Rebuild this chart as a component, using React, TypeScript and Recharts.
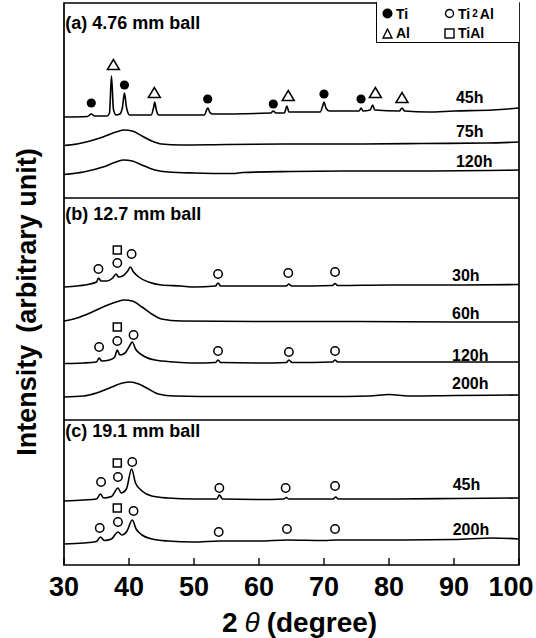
import { ComposedChart, Line, Scatter, XAxis, YAxis, ReferenceArea, ReferenceLine, Legend } from 'recharts'

type Pt = [number, number]

// 2θ (degree) against stacked intensity; y is the height above the bottom of the frame
const a45h: Pt[] = [
  [30, 448], [33.6, 448.5], [34.2, 451], [34.7, 449], [36.6, 449], [37.0, 452], [37.3, 489], [37.6, 456],
  [38.0, 450], [38.6, 451], [39.0, 458], [39.3, 472], [39.6, 458], [40.1, 450], [43.4, 450], [43.8, 458],
  [43.95, 463], [44.2, 455], [44.6, 450], [51.6, 450], [52.0, 456], [52.15, 457], [52.4, 453], [52.8, 451],
  [61.8, 452], [62.2, 454], [62.6, 452], [63.9, 452], [64.3, 459], [64.6, 453], [69.4, 453], [69.8, 459],
  [70.0, 463], [70.3, 457], [70.8, 454], [75.4, 454], [75.7, 457], [76.0, 454], [77.1, 455], [77.5, 460],
  [77.8, 455], [81.6, 454], [82.0, 457], [82.4, 454], [86, 453], [90, 454], [96, 455], [100, 457],
]
const a75h: Pt[] = [
  [30, 419.5], [32, 421], [34, 424], [36, 428], [38, 433], [39.3, 435], [40.5, 434], [42, 429], [43.5, 424],
  [45, 421], [48, 420], [55, 420.5], [65, 421], [75, 421], [85, 421.5], [95, 422], [100, 423],
]
const a120h: Pt[] = [
  [30, 390.5], [33, 393], [36, 398], [38, 403], [39.2, 405], [40.5, 404], [42, 400], [44, 395], [46, 393],
  [50, 392], [56, 391.5], [57.5, 392.5], [65, 393.5], [75, 394], [85, 394], [95, 394.5], [100, 395],
]
const b30h: Pt[] = [
  [30, 278], [32, 279], [34, 281], [35.0, 283], [35.3, 287], [35.7, 284], [36.5, 284], [37.5, 287],
  [38.0, 291], [38.4, 288], [39.0, 289], [39.8, 294], [40.2, 298], [40.7, 293], [41.5, 288], [43, 283],
  [45, 280], [48, 279], [50, 278], [53.3, 279], [53.7, 282], [54.1, 279], [58, 279], [64.2, 279],
  [64.6, 281], [65.0, 279], [71.3, 279.5], [71.7, 281.5], [72.1, 279.5], [80, 280], [90, 280], [100, 280.5],
]
const b60h: Pt[] = [
  [30, 244], [32, 247], [34, 252], [36, 258], [38, 263], [39.3, 265], [40.5, 264], [42, 258], [43.5, 251],
  [45, 246], [48, 244], [60, 243.5], [75, 243.5], [90, 243], [100, 243],
]
const b120h: Pt[] = [
  [30, 201.5], [33, 202], [35.0, 203], [35.4, 207], [35.8, 204], [37, 205], [37.8, 208], [38.2, 215],
  [38.6, 210], [39.4, 212], [40.0, 218], [40.5, 223], [41, 216], [42, 210], [44, 205], [47, 203], [50, 202],
  [53.3, 202.5], [53.7, 205], [54.1, 202.5], [60, 202], [64.2, 202.5], [64.6, 205], [65.1, 202.5],
  [71.3, 203], [71.7, 205], [72.1, 203], [80, 203], [90, 203], [100, 203],
]
const b200h: Pt[] = [
  [30, 168], [33, 169], [35, 172], [37, 177], [39, 182], [40.2, 183], [41.5, 181], [43, 176], [44.5, 171],
  [47, 169], [55, 168.5], [70, 168.5], [77, 169], [80, 170.5], [83, 169], [90, 169.5], [100, 170],
]
const c45h: Pt[] = [
  [30, 64], [33, 65], [35.0, 66], [35.6, 71], [36.1, 67], [37.3, 68.5], [38.3, 77], [38.8, 72], [39.6, 76],
  [40.4, 96], [41.0, 82], [42, 74], [43.5, 69], [46, 67], [50, 66], [53.5, 66], [53.9, 70], [54.4, 66],
  [60, 65.5], [63.8, 66], [64.2, 67.5], [64.6, 66], [71.4, 66], [71.8, 68], [72.2, 66], [80, 66],
  [90, 66.5], [100, 67],
]
const c200h: Pt[] = [
  [30, 21], [33, 22], [35.0, 23.5], [35.6, 28], [36.2, 24.5], [37.3, 26], [38.3, 33], [38.9, 30], [39.7, 34],
  [40.5, 45], [41.1, 36], [42, 30], [43.5, 26], [46, 24], [50, 23], [54, 24], [60, 24], [64.3, 25],
  [70, 24.5], [72, 25], [80, 25], [90, 25.5], [96, 27], [100, 26],
]

// peak markers
const tiMarks: Pt[] = [[34.2, 462], [39.3, 480], [52.1, 466], [62.2, 461], [70.0, 471], [75.7, 466]]
const alMarks: Pt[] = [[37.6, 500], [43.9, 472], [64.5, 469], [77.9, 472], [82.0, 467]]
const ti2alMarks: Pt[] = [
  [35.3, 296], [38.2, 302], [40.4, 311], [53.7, 291], [64.5, 292], [71.7, 293],
  [35.4, 218], [38.2, 224], [40.7, 230], [53.7, 214], [64.6, 213], [71.7, 214],
  [35.7, 83], [38.3, 88], [40.5, 103], [53.9, 77], [64.1, 77], [71.7, 79],
  [35.5, 37], [38.3, 43], [40.7, 54], [53.8, 33], [64.3, 36], [71.7, 36],
]
const tiAlMarks: Pt[] = [[38.2, 315], [38.2, 238], [38.2, 102], [38.2, 57]]

const hourText = ['45h', '75h', '120h', '30h', '60h', '120h', '200h', '45h', '200h']
const hourX = [90.3, 90.3, 90.3, 89.7, 89.7, 89.7, 89.7, 89.8, 89.8]
const hourY = [468, 434, 404, 290, 252, 210, 182, 81, 36]

const panelNames = ['(a) 4.76 mm ball', '(b) 12.7 mm ball', '(c) 19.1 mm ball']
const panelNameY = [542, 351, 134]

const dividers = [367, 145]
const xTicks = [30, 40, 50, 60, 70, 80, 90, 100]
const yMax = 562

const spectra = [a45h, a75h, a120h, b30h, b60h, b120h, b200h, c45h, c200h]
const toRows = (pts: Pt[]) => pts.map(([x, y]) => ({ x, y }))

const FONT = '"Liberation Sans", Arial, sans-serif'

const hourRows = hourText.map((t, i) => ({ x: hourX[i], y: hourY[i], t }))
const panelRows = panelNames.map((t, i) => ({ x: 30.2, y: panelNameY[i], t }))

function Sym({ kind, size = 11 }: { kind: string; size?: number }) {
  const h = size / 2
  return (
    <svg width={size} height={size} style={{ verticalAlign: 'middle', marginRight: 1 }}>
      {kind === 'ti' && <circle cx={h} cy={h} r={h - 0.5} fill="#000" />}
      {kind === 'ti2al' && <circle cx={h} cy={h} r={h - 1.5} fill="none" stroke="#000" strokeWidth={1.4} />}
      {kind === 'al' && <path d={`M${h} 1 L${size - 1} ${size - 1} L1 ${size - 1} Z`} fill="none" stroke="#000" strokeWidth={1.4} />}
      {kind === 'tial' && <rect x={1} y={1} width={size - 2} height={size - 2} fill="none" stroke="#000" strokeWidth={1.4} />}
    </svg>
  )
}

function PhaseLegend() {
  const cell = { display: 'flex', alignItems: 'center', gap: 2 } as const
  return (
    <div
      style={{
        width: 143, height: 41, boxSizing: 'border-box', borderLeft: '1.5px solid #000', borderBottom: '1.5px solid #000',
        display: 'grid', gridTemplateColumns: '62px 80px', padding: '3px 0 0 5px', rowGap: 2,
        fontFamily: FONT, fontWeight: 'bold', fontSize: 14, color: '#000', background: '#fff',
      }}
    >
      <div style={cell}><Sym kind="ti" />Ti</div>
      <div style={cell}><Sym kind="ti2al" />Ti<span style={{ fontSize: 10 }}>2</span>Al</div>
      <div style={cell}><Sym kind="al" />Al</div>
      <div style={cell}><Sym kind="tial" />TiAl</div>
    </div>
  )
}

const markShape = (kind: string) => (p: any) => {
  const { cx, cy } = p
  if (kind === 'ti') return <circle cx={cx} cy={cy} r={4.6} fill="#000" />
  if (kind === 'ti2al') return <circle cx={cx} cy={cy} r={4.2} fill="#fff" stroke="#000" strokeWidth={1.5} />
  if (kind === 'al') return <path d={`M${cx} ${cy - 5.5} L${cx + 6} ${cy + 4.5} L${cx - 6} ${cy + 4.5} Z`} fill="#fff" stroke="#000" strokeWidth={1.5} />
  return <rect x={cx - 4} y={cy - 4} width={8} height={8} fill="#fff" stroke="#000" strokeWidth={1.5} />
}

const textShape = (size: number) => (p: any) => (
  <text x={p.cx} y={p.cy} dy="0.36em" fontFamily={FONT} fontWeight="bold" fontSize={size} fill="#000">
    {p.payload.t}
  </text>
)

function XTick(props: any) {
  const { x, y, payload } = props
  // the last label sits a little left of its tick so it stays inside the picture
  const shift = payload.value === 100 ? -8 : 0
  return (
    <text x={x + shift} y={y} dy="0.71em" textAnchor="middle" fontFamily={FONT} fontWeight="bold" fontSize={27} fill="#000">
      {payload.value}
    </text>
  )
}

function XLabel(props: any) {
  const { x, y, width, height } = props.viewBox
  return (
    <text x={x + width / 2 + 8} y={y + height - 6} textAnchor="middle" fontFamily={FONT} fontWeight="bold" fontSize={28} fill="#000">
      2<tspan dx={7} fontStyle="italic" fontWeight="normal">θ</tspan>
      <tspan dx={7}>(degree)</tspan>
    </text>
  )
}

function YLabel(props: any) {
  const { x, y, width, height } = props.viewBox
  const cx = x + width / 2
  const cy = y + height / 2 + 18
  return (
    <text x={cx} y={cy} dy="0.36em" transform={`rotate(-90 ${cx} ${cy})`} textAnchor="middle" fontFamily={FONT} fontWeight="bold" fontSize={27} fill="#000">
      Intensity<tspan dx={12}>(arbitrary unit)</tspan>
    </text>
  )
}

export default function App() {
  return (
    <div style={{ position: 'absolute', left: 0, top: 0, background: '#fff' }}>
      <ComposedChart width={536} height={638} margin={{ top: 3, right: 17, bottom: 0, left: -12 }}>
        <XAxis
          type="number"
          dataKey="x"
          domain={[30, 100]}
          ticks={xTicks}
          interval={0}
          allowDataOverflow
          height={73}
          axisLine={false}
          tickSize={-7}
          tickMargin={19}
          tickLine={{ stroke: '#000', strokeWidth: 1.4 }}
          tick={<XTick />}
          label={<XLabel />}
        />
        <YAxis
          type="number"
          domain={[0, yMax]}
          allowDataOverflow
          width={76}
          tick={false}
          tickLine={false}
          axisLine={false}
          label={<YLabel />}
        />
        <ReferenceArea x1={30} x2={100} y1={0} y2={yMax} fill="none" stroke="#000" strokeWidth={1.7} />
        {dividers.map((d) => (
          <ReferenceLine key={d} y={d} stroke="#000" strokeWidth={1.5} />
        ))}
        {spectra.map((s, i) => (
          <Line
            key={i}
            data={toRows(s)}
            dataKey="y"
            type="monotone"
            stroke="#000"
            strokeWidth={1.6}
            dot={false}
            isAnimationActive={false}
          />
        ))}
        <Scatter data={toRows(tiMarks)} dataKey="y" shape={markShape('ti')} isAnimationActive={false} />
        <Scatter data={toRows(alMarks)} dataKey="y" shape={markShape('al')} isAnimationActive={false} />
        <Scatter data={toRows(ti2alMarks)} dataKey="y" shape={markShape('ti2al')} isAnimationActive={false} />
        <Scatter data={toRows(tiAlMarks)} dataKey="y" shape={markShape('tial')} isAnimationActive={false} />
        <Scatter data={hourRows} dataKey="y" shape={textShape(16)} isAnimationActive={false} />
        <Scatter data={panelRows} dataKey="y" shape={textShape(18)} isAnimationActive={false} />
        <Legend
          layout="horizontal"
          verticalAlign="middle"
          align="center"
          content={() => <PhaseLegend />}
          wrapperStyle={{ left: 376, top: 2, width: 143, height: 41 }}
        />
      </ComposedChart>
    </div>
  )
}
